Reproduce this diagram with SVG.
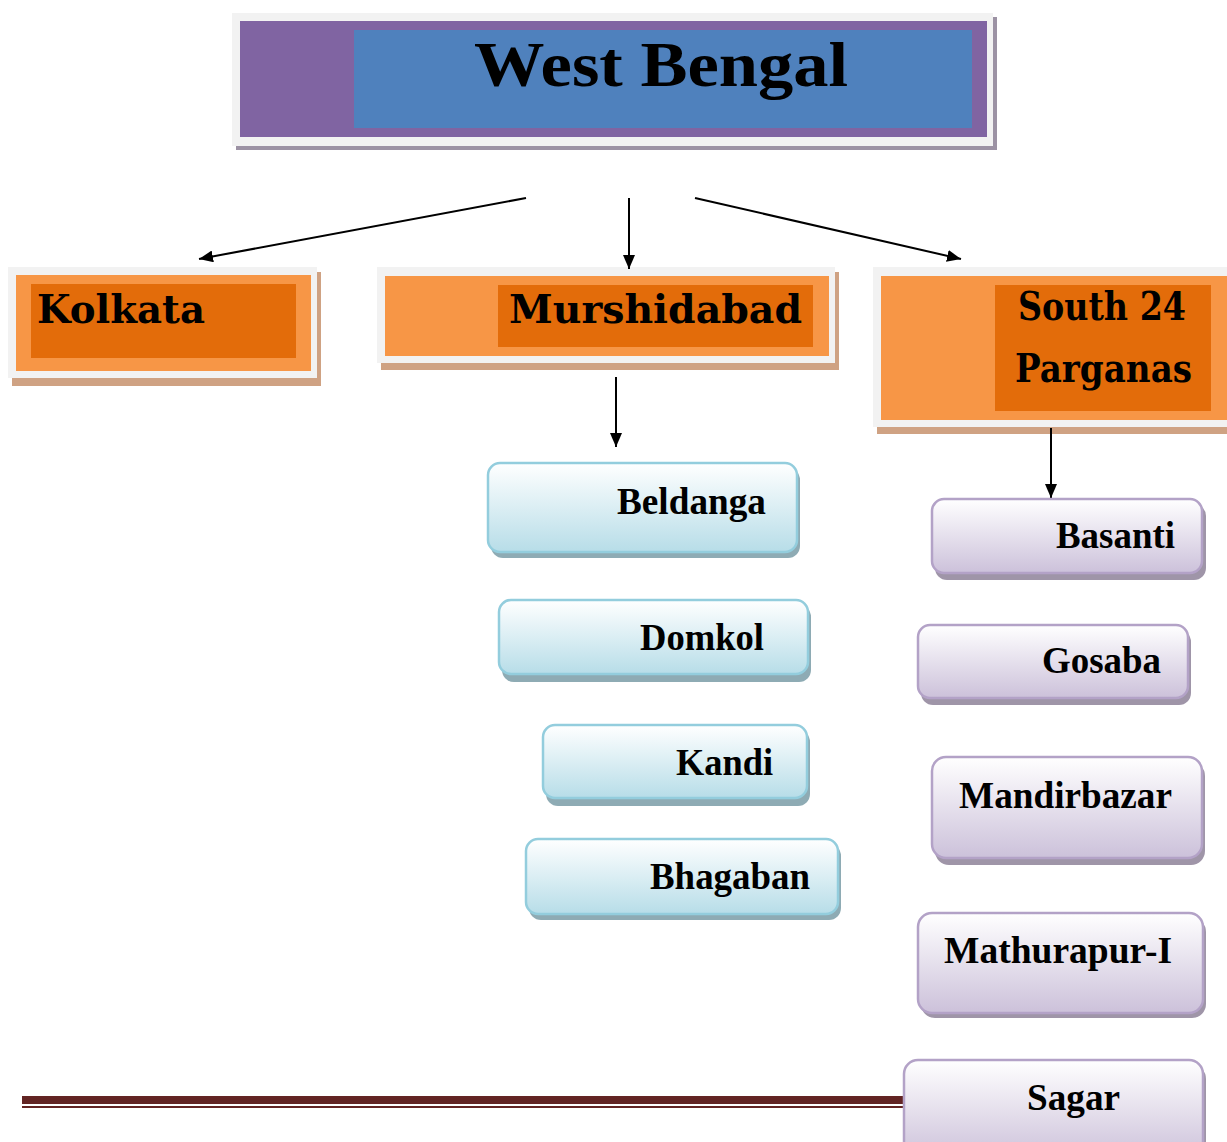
<svg xmlns="http://www.w3.org/2000/svg" width="1227" height="1142" viewBox="0 0 1227 1142">
<defs>
<linearGradient id="gBlue" x1="0" y1="0" x2="0" y2="1"><stop offset="0" stop-color="#ffffff"/><stop offset="1" stop-color="#b7dde8"/></linearGradient>
<linearGradient id="gPurp" x1="0" y1="0" x2="0" y2="1"><stop offset="0" stop-color="#ffffff"/><stop offset="1" stop-color="#ccc1da"/></linearGradient>
<marker id="ah" markerWidth="14" markerHeight="12" refX="14" refY="6" orient="auto" markerUnits="userSpaceOnUse"><path d="M0,0 L14,6 L0,12 Z" fill="#000"/></marker>
</defs>
<style>
.frame{fill:#f2f2f2}
.oshadow{fill:#cfa283}
.lo{fill:#f79646}
.do{fill:#e36c0a}
.ot{font-family:"DejaVu Serif",serif;font-weight:bold;font-size:40px;fill:#000}
.bs{fill:#8eabb4}
.bb{fill:url(#gBlue);stroke:#93cddd;stroke-width:2.5}
.ps{fill:#9f95a8}
.pb{fill:url(#gPurp);stroke:#b3a2c7;stroke-width:2.5}
.st{font-family:"Liberation Serif","Times New Roman",serif;font-weight:bold;font-size:38px;fill:#000}
.conn{stroke:#000;stroke-width:2;fill:none;marker-end:url(#ah)}
</style>
<rect width="1227" height="1142" fill="#ffffff"/>
<g id="footer-rule">
<rect x="22" y="1096" width="884" height="8" fill="#622423"/>
<rect x="22" y="1106" width="884" height="2" fill="#622423"/>
</g>
<g id="west-bengal">
<rect x="236" y="17" width="761" height="133" fill="#9c92a4"/>
<rect x="232" y="13" width="761" height="133" class="frame"/>
<rect x="240" y="21" width="747" height="116" fill="#8064a2"/>
<rect x="354" y="30" width="618" height="98" fill="#4f81bd"/>
<text x="474" y="86" font-family="Liberation Serif, serif" font-weight="bold" font-size="64" textLength="374" lengthAdjust="spacingAndGlyphs">West Bengal</text>
</g>
<g id="kolkata">
<rect x="12" y="272" width="309" height="114" class="oshadow"/>
<rect x="8" y="267" width="309" height="111" class="frame"/>
<rect x="16" y="275" width="295" height="96" class="lo"/>
<rect x="31" y="284" width="265" height="74" class="do"/>
<text x="37" y="323" class="ot" textLength="168" lengthAdjust="spacingAndGlyphs">Kolkata</text>
</g>
<g id="murshidabad">
<rect x="381" y="272" width="458" height="98" class="oshadow"/>
<rect x="377" y="267" width="458" height="96" class="frame"/>
<rect x="385" y="276" width="444" height="80" class="lo"/>
<rect x="498" y="285" width="315" height="62" class="do"/>
<text x="509" y="323" class="ot" textLength="293" lengthAdjust="spacingAndGlyphs">Murshidabad</text>
</g>
<g id="south-24-parganas">
<rect x="877" y="272" width="360" height="162" class="oshadow"/>
<rect x="873" y="267" width="360" height="160" class="frame"/>
<rect x="881" y="276" width="346" height="144" class="lo"/>
<rect x="995" y="285" width="216" height="126" class="do"/>
<text x="1018" y="320" class="ot" textLength="168" lengthAdjust="spacingAndGlyphs">South 24</text>
<text x="1015" y="382" class="ot" textLength="177" lengthAdjust="spacingAndGlyphs">Parganas</text>
</g>
<g id="connectors">
<line x1="526" y1="198" x2="199" y2="259" class="conn"/>
<line x1="629" y1="198" x2="629" y2="269" class="conn"/>
<line x1="695" y1="198" x2="961" y2="259" class="conn"/>
<line x1="616" y1="377" x2="616" y2="447" class="conn"/>
<line x1="1051" y1="428" x2="1051" y2="498" class="conn"/>
</g>
<g id="beldanga">
<rect x="491" y="468" width="309" height="90" rx="12" class="bs"/>
<rect x="488" y="463" width="309" height="89" rx="12" class="bb"/>
<text x="617" y="514" class="st" textLength="149" lengthAdjust="spacingAndGlyphs">Beldanga</text>
</g>
<g id="domkol">
<rect x="502" y="605" width="309" height="77" rx="12" class="bs"/>
<rect x="499" y="600" width="309" height="74" rx="12" class="bb"/>
<text x="640" y="650" class="st" textLength="124" lengthAdjust="spacingAndGlyphs">Domkol</text>
</g>
<g id="kandi">
<rect x="546" y="730" width="264" height="76" rx="12" class="bs"/>
<rect x="543" y="725" width="264" height="73" rx="12" class="bb"/>
<text x="676" y="775" class="st" textLength="97" lengthAdjust="spacingAndGlyphs">Kandi</text>
</g>
<g id="bhagaban">
<rect x="529" y="844" width="312" height="76" rx="12" class="bs"/>
<rect x="526" y="839" width="312" height="75" rx="12" class="bb"/>
<text x="650" y="889" class="st" textLength="160" lengthAdjust="spacingAndGlyphs">Bhagaban</text>
</g>
<g id="basanti">
<rect x="935" y="504" width="271" height="76" rx="12" class="ps"/>
<rect x="932" y="499" width="270" height="74" rx="12" class="pb"/>
<text x="1056" y="548" class="st" textLength="119" lengthAdjust="spacingAndGlyphs">Basanti</text>
</g>
<g id="gosaba">
<rect x="921" y="630" width="270" height="75" rx="12" class="ps"/>
<rect x="918" y="625" width="270" height="73" rx="12" class="pb"/>
<text x="1042" y="673" class="st" textLength="119" lengthAdjust="spacingAndGlyphs">Gosaba</text>
</g>
<g id="mandirbazar">
<rect x="935" y="762" width="270" height="103" rx="14" class="ps"/>
<rect x="932" y="757" width="270" height="101" rx="14" class="pb"/>
<text x="959" y="808" class="st" textLength="213" lengthAdjust="spacingAndGlyphs">Mandirbazar</text>
</g>
<g id="mathurapur-i">
<rect x="921" y="918" width="285" height="100" rx="14" class="ps"/>
<rect x="918" y="913" width="285" height="100" rx="14" class="pb"/>
<text x="944" y="963" class="st" textLength="228" lengthAdjust="spacingAndGlyphs">Mathurapur-I</text>
</g>
<g id="sagar">
<rect x="907" y="1065" width="299" height="100" rx="14" class="ps"/>
<rect x="904" y="1060" width="299" height="100" rx="14" class="pb"/>
<text x="1027" y="1110" class="st" textLength="93" lengthAdjust="spacingAndGlyphs">Sagar</text>
</g>
</svg>
